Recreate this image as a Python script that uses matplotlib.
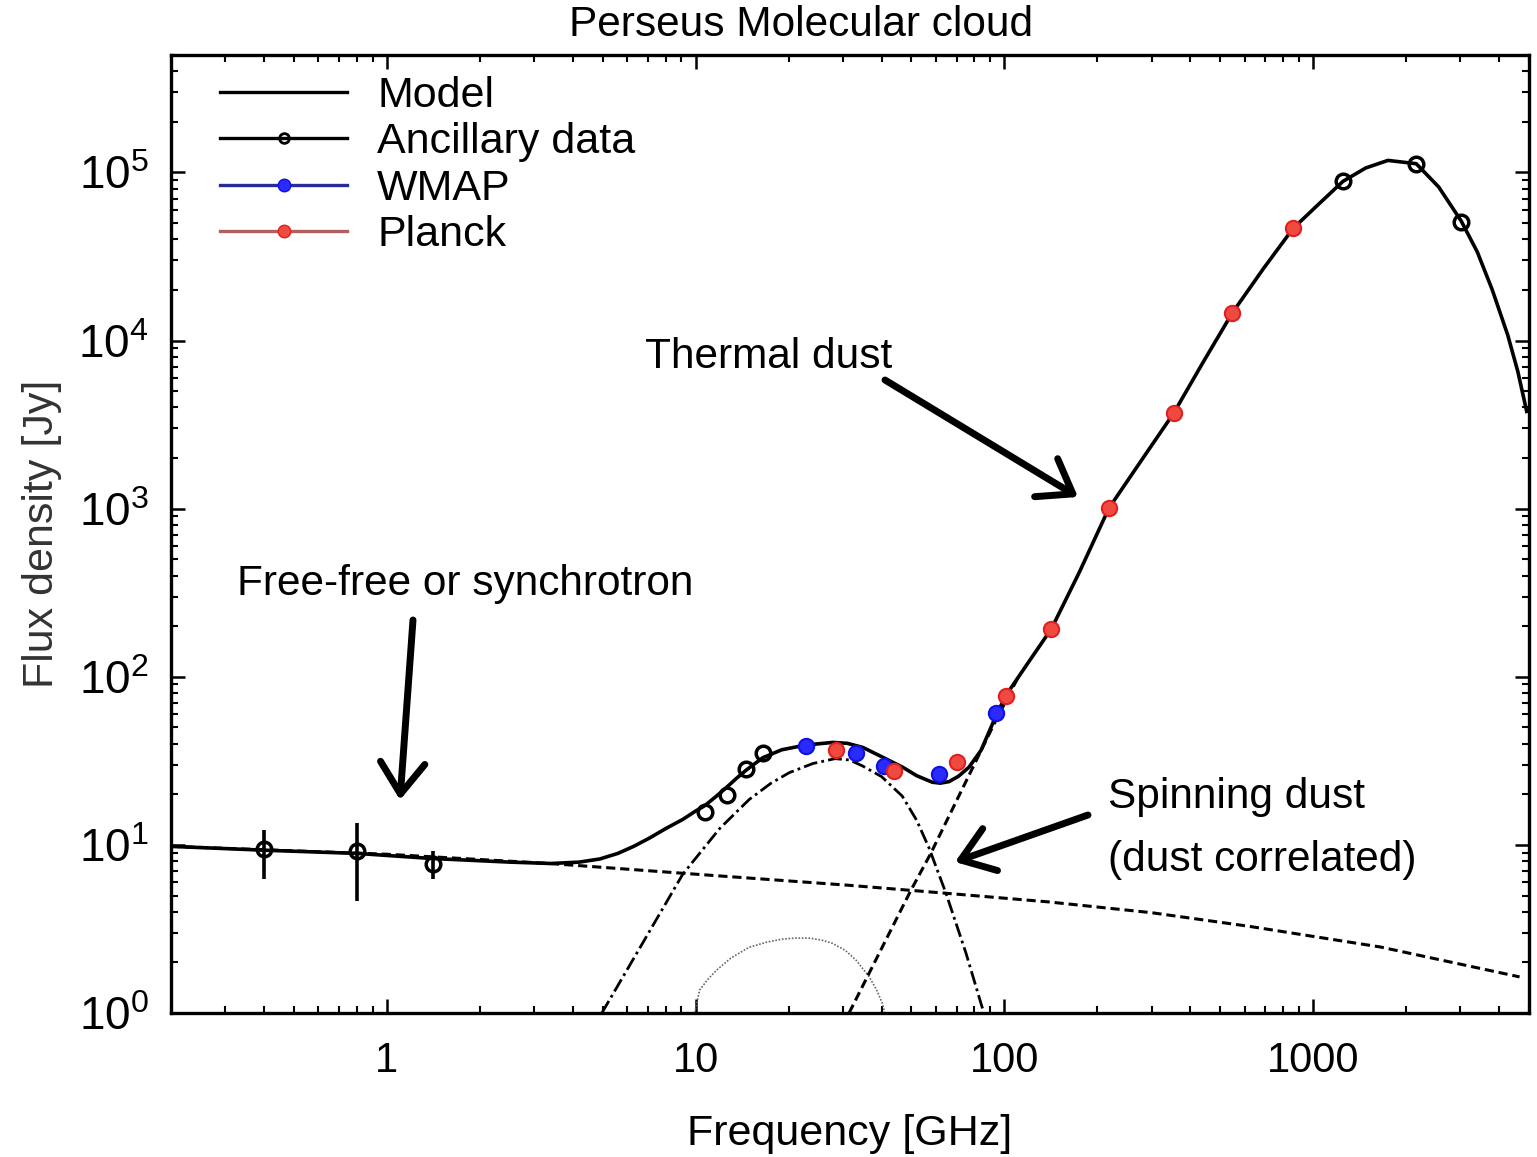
import matplotlib

matplotlib.use("Agg")
import matplotlib.pyplot as plt
from matplotlib.lines import Line2D
from matplotlib.ticker import LogLocator, NullFormatter

# --- data (GHz, Jy) ---
anc_freq = [0.40, 0.80, 1.41, 10.7, 12.6, 14.6, 16.5, 1250, 2157, 3015]
anc_flux = [9.4, 9.15, 7.66, 15.6, 19.7, 28.1, 35.4, 88700, 112800, 50800]
anc_err_lo = [3.1, 4.5, 1.43, 0, 0, 0, 0, 0, 0, 0]
anc_err_hi = [2.9, 4.35, 1.52, 0, 0, 0, 0, 0, 0, 0]

wmap_freq = [22.8, 33.0, 40.8, 61.4, 93.7]
wmap_flux = [38.6, 35.1, 29.6, 26.5, 60.9]

planck_freq = [28.5, 44.0, 70.4, 100.9, 142, 218, 353, 547, 861]
planck_flux = [36.9, 27.4, 31.0, 77.0, 193, 1007, 3690, 14600, 46500]

model_freq = [0.2, 0.4, 0.8, 1.4, 2.5, 3.4, 4.2, 4.9, 5.6, 6.3, 7.1, 8.0,
              9.1, 10.0, 10.7, 11.6, 12.6, 13.6, 14.6, 16.5, 19.0, 22.8,
              27.8, 31.0, 34.8, 40.0, 46.8, 52.0, 58.4, 62.0, 66.2, 71.0,
              76.8, 84.0, 93.7, 100.9, 120, 142, 175, 218, 280, 353, 440,
              547, 690, 861, 1050, 1250, 1480, 1746, 2157, 2550, 3015, 3400,
              3800, 4266, 4600, 4915]
model_flux = [9.8, 9.3, 8.9, 8.3, 7.9, 7.75, 7.9, 8.25, 8.9, 9.8, 11.0, 12.5,
              14.2, 15.9, 17.1, 19.3, 22.0, 25.0, 27.9, 33.0, 36.8, 39.3,
              40.7, 40.2, 38.0, 33.5, 29.0, 25.8, 23.6, 23.3, 23.8, 25.6,
              29.0, 36.5, 58.0, 77.0, 123, 193, 420, 1007, 1980, 3690, 7430,
              14600, 26800, 46500, 65700, 88700, 106400, 118000, 112800,
              82000, 51500, 33700, 20100, 10800, 6550, 3790]

freefree_freq = [0.2, 1.0, 3.38, 9.1, 31.4, 62.8, 139, 300, 619, 1650, 4660]
freefree_flux = [9.8, 8.8, 7.75, 6.78, 5.75, 5.18, 4.58, 3.95, 3.28, 2.47, 1.64]

spin1_freq = [4.97, 6.59, 9.08, 11.96, 14.9, 17.5, 20.1, 24.0, 28.3, 31.5,
              34.7, 40.0, 46.7, 52.0, 57.0, 64.7, 75.1, 84.6, 86.0]
spin1_flux = [1.0, 2.43, 6.68, 12.5, 18.6, 23.2, 26.9, 30.5, 32.6, 32.0,
              29.5, 25.5, 19.5, 14.0, 9.6, 5.15, 2.27, 1.09, 1.0]

spin2_freq = [9.93, 10.3, 11.0, 11.7, 13.0, 14.9, 17.0, 19.1, 21.0, 23.3,
              25.5, 27.7, 30.5, 33.1, 36.5, 38.5, 40.2, 41.0]
spin2_flux = [1.0, 1.37, 1.60, 1.80, 2.12, 2.46, 2.64, 2.75, 2.79, 2.79,
              2.72, 2.60, 2.36, 2.06, 1.64, 1.38, 1.15, 1.0]

dust_freq = [31.4, 49.8, 57.7, 93.7, 111]
dust_flux = [1.0, 5.37, 8.87, 54.8, 100]

x_ticks = [1, 10, 100, 1000]
x_tick_labels = ["1", "10", "100", "1000"]
legend_labels = ["Model", "Ancillary data", "WMAP", "Planck"]

W, H = 1537, 1157


def px(x, y):
    return (x / W, 1 - y / H)


plt.rcParams["font.family"] = ["Liberation Sans", "DejaVu Sans"]
plt.rcParams["mathtext.fontset"] = "custom"
plt.rcParams["mathtext.rm"] = "Liberation Sans"
plt.rcParams["mathtext.it"] = "Liberation Sans:italic"
plt.rcParams["mathtext.bf"] = "Liberation Sans:bold"

fig = plt.figure(figsize=(W / 100, H / 100), dpi=100)
ax = fig.add_axes([171 / W, 1 - 1013 / H, (1529 - 171) / W, (1013 - 55) / H])

ax.plot(freefree_freq, freefree_flux, color="black", lw=2.2, dashes=(3, 1.6))
ax.plot(spin1_freq, spin1_flux, color="black", lw=2.0, dashes=(5, 1.5, 1, 1.5))
ax.plot(spin2_freq, spin2_flux, color="#666666", lw=1.2, dashes=(1, 1))
ax.plot(dust_freq, dust_flux, color="black", lw=2.2, dashes=(3, 1.6))
ax.plot(model_freq, model_flux, color="black", lw=2.6)

ax.errorbar(anc_freq, anc_flux, yerr=[anc_err_lo, anc_err_hi], fmt="o",
            color="black", ms=10.5, mfc="none", mec="black", mew=2.5,
            elinewidth=2.6, capsize=0, zorder=5)
ax.plot(wmap_freq, wmap_flux, "o", ms=11, mfc="#2a2aff", mec="#1010e0",
        mew=1.5, zorder=6)
ax.plot(planck_freq, planck_flux, "o", ms=11, mfc="#f04a40", mec="#e02020",
        mew=1.5, zorder=6)

ax.set_xscale("log")
ax.set_yscale("log")
ax.set_xlim(0.2, 5000)
ax.set_ylim(1, 5e5)

ax.set_xticks(x_ticks, x_tick_labels)
ax.xaxis.set_minor_locator(LogLocator(base=10, subs=range(2, 10)))
ax.xaxis.set_minor_formatter(NullFormatter())
ax.yaxis.set_major_locator(LogLocator(base=10, numticks=10))
ax.yaxis.set_minor_locator(LogLocator(base=10, subs=range(2, 10), numticks=20))
ax.yaxis.set_minor_formatter(NullFormatter())

ax.tick_params(which="both", direction="in", top=True, right=True,
               colors="black")
ax.tick_params(which="major", length=10, width=1.8)
ax.tick_params(which="minor", length=5, width=1.5)
ax.tick_params(axis="x", which="major", pad=20, labelsize=30)
ax.tick_params(axis="y", which="major", pad=16, labelsize=33)
for spine in ax.spines.values():
    spine.set_linewidth(2.4)

ax.set_xlabel("Frequency [GHz]", fontsize=31, labelpad=24)
ax.set_ylabel("Flux density [Jy]", fontsize=31, labelpad=12, color="#333333")

handles = [
    Line2D([], [], color="black", lw=2.4),
    Line2D([], [], color="black", lw=2.4, marker="o", ms=7, mfc="none",
           mec="black", mew=2),
    Line2D([], [], color="#2a2a9a", lw=2.4, marker="o", ms=9, mfc="#2a2aff",
           mec="#1010e0"),
    Line2D([], [], color="#b06060", lw=2.4, marker="o", ms=9, mfc="#f04a40",
           mec="#e02020"),
]
ax.legend(handles, legend_labels, loc="upper left", bbox_to_anchor=px(220, 76),
          bbox_transform=fig.transFigure, frameon=False, fontsize=31,
          handlelength=2.95, handletextpad=0.7, labelspacing=0.15,
          borderpad=0, borderaxespad=0)

fig.text(*px(801, 25), "Perseus Molecular cloud", fontsize=30.5,
         ha="center", va="center")

arrow = dict(arrowstyle="->,head_length=0.45,head_width=0.32", lw=5,
             color="black", mutation_scale=50, shrinkA=0, shrinkB=0)
ann_font = dict(fontsize=30.5, ha="left", va="center")

fig.text(*px(645, 357), "Thermal dust", **ann_font)
ax.annotate("", xy=px(1078, 497), xytext=px(885, 380),
            xycoords="figure fraction", textcoords="figure fraction",
            arrowprops=arrow)

fig.text(*px(237, 584), "Free-free or synchrotron", **ann_font)
ax.annotate("", xy=px(400, 800), xytext=px(413, 620),
            xycoords="figure fraction", textcoords="figure fraction",
            arrowprops=arrow)

fig.text(*px(1108, 797), "Spinning dust", **ann_font)
fig.text(*px(1108, 860), "(dust correlated)", **ann_font)
ax.annotate("", xy=px(955, 862), xytext=px(1088, 815),
            xycoords="figure fraction", textcoords="figure fraction",
            arrowprops=arrow)

fig.savefig("out.png", dpi=100, facecolor="white")
